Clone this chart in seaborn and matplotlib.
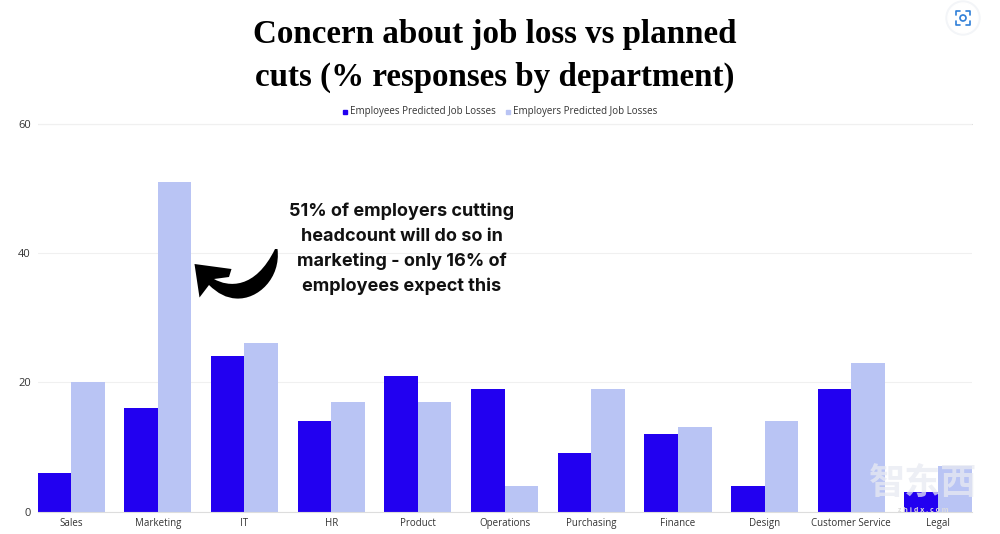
import pandas as pd
import seaborn as sns
import matplotlib.pyplot as plt
from matplotlib.path import Path
from matplotlib.patches import PathPatch, Circle
from matplotlib.transforms import Affine2D

departments = ['Sales', 'Marketing', 'IT', 'HR', 'Product', 'Operations', 'Purchasing',
               'Finance', 'Design', 'Customer Service', 'Legal']
employees = [6, 16, 24, 14, 21, 19, 9, 12, 4, 19, 3]
employers = [20, 51, 26, 17, 17, 4, 19, 13, 14, 23, 7]
series_names = ['Employees Predicted Job Losses', 'Employers Predicted Job Losses']
colors = ['#2200F0', '#B9C4F4']
y_ticks = [0, 20, 40, 60]

W, H = 1000, 534

df = pd.DataFrame({'department': departments, series_names[0]: employees, series_names[1]: employers})
long_df = df.melt(id_vars='department', var_name='series', value_name='pct')

sns.set_theme(style='white')
plt.rcParams['font.family'] = ['Open Sans', 'DejaVu Sans']

fig = plt.figure(figsize=(W / 100, H / 100), dpi=100, facecolor='white')
ax = fig.add_axes([38 / W, 1 - 511.5 / H, 934 / W, 388 / H])

sns.barplot(data=long_df, x='department', y='pct', hue='series', palette=colors,
            width=0.775, gap=0, saturation=1, legend=False, linewidth=0, ax=ax)

ax.set_xlim(-0.381, 10.392)
ax.set_ylim(0, 60)
ax.set_yticks(y_ticks)
ax.set_xlabel('')
ax.set_ylabel('')
ax.tick_params(axis='x', length=0, labelsize=7, labelcolor='#333333', pad=5)
ax.tick_params(axis='y', length=0, labelsize=8, labelcolor='#333333', pad=5)
ax.yaxis.grid(True, color='#F0F0F0', linewidth=0.8)
ax.set_axisbelow(True)
sns.despine(ax=ax, left=True, top=True, right=True)
ax.spines['bottom'].set_color('#DDDDDD')
ax.spines['bottom'].set_linewidth(0.8)
ax.axhline(60, color='#DDDDDD', linewidth=0.8, clip_on=False, zorder=0)

# everything below is placed in reference pixels
px = Affine2D().scale(1 / W, -1 / H).translate(0, 1) + fig.transFigure


def ftext(x, y, s, **kw):
    return fig.text(x / W, 1 - y / H, s, ha=kw.pop('ha', 'center'), va=kw.pop('va', 'center'), **kw)


ftext(495, 34, 'Concern about job loss vs planned', fontsize=23.8, fontweight='bold',
      family=['Liberation Serif'], color='black')
ftext(495, 77, 'cuts (% responses by department)', fontsize=23.8, fontweight='bold',
      family=['Liberation Serif'], color='black')

# legend
for sq_x, lab_x, name, c in zip([342.5, 505.5], [350, 513], series_names, colors):
    fig.patches.append(plt.Rectangle((sq_x, 109.5), 4, 4, transform=px, color=c))
    ftext(lab_x, 111.5, name, ha='left', fontsize=7, color='#333333')

# annotation
note = ['51% of employers cutting', 'headcount will do so in', 'marketing - only 16% of', 'employees expect this']
for i, line in enumerate(note):
    ftext(401.5, 211.5 + i * 25, line, fontsize=13, fontweight='bold', family=['Inter', 'DejaVu Sans'],
          color='#111111')

# curved arrow
arrow_verts = [(277.5, 249), (281, 278), (258, 300), (236, 298.5), (222, 298), (209, 285),
               (199.5, 297.5), (194.5, 264), (231.5, 269), (229, 277), (214, 279),
               (228, 287), (255, 290), (275, 249), (277.5, 249)]
arrow_codes = [Path.MOVETO, Path.CURVE4, Path.CURVE4, Path.CURVE4, Path.CURVE3, Path.CURVE3,
               Path.LINETO, Path.LINETO, Path.LINETO, Path.LINETO, Path.LINETO,
               Path.CURVE4, Path.CURVE4, Path.CURVE4, Path.CLOSEPOLY]
fig.patches.append(PathPatch(Path(arrow_verts, arrow_codes), transform=px, facecolor='black', edgecolor='none'))

# lens button, top right
for r, c in [(17, '#F3F5F8'), (15, 'white')]:
    fig.patches.append(Circle((963, 18), r, transform=px, color=c))
for x0, y0, dx, dy in [(956, 11, 1, 1), (970, 11, -1, 1), (956, 25, 1, -1), (970, 25, -1, -1)]:
    fig.add_artist(plt.Line2D([x0 + 4 * dx, x0, x0], [y0, y0, y0 + 4 * dy], transform=px,
                              color='#2F7FD8', linewidth=1.2))
fig.patches.append(Circle((963, 18), 3, transform=px, facecolor='none', edgecolor='#2F7FD8', linewidth=1.2))

# watermark
ftext(923, 483, '智东西', fontsize=26, fontweight='bold',
      family=['Noto Sans CJK SC', 'DejaVu Sans'], color='#E8EAF2', alpha=0.75)
ftext(923, 510.5, 'z h i d x . c o m', fontsize=5, color='#DDDDDD', fontweight='bold')

fig.savefig('out.png', dpi=100)
